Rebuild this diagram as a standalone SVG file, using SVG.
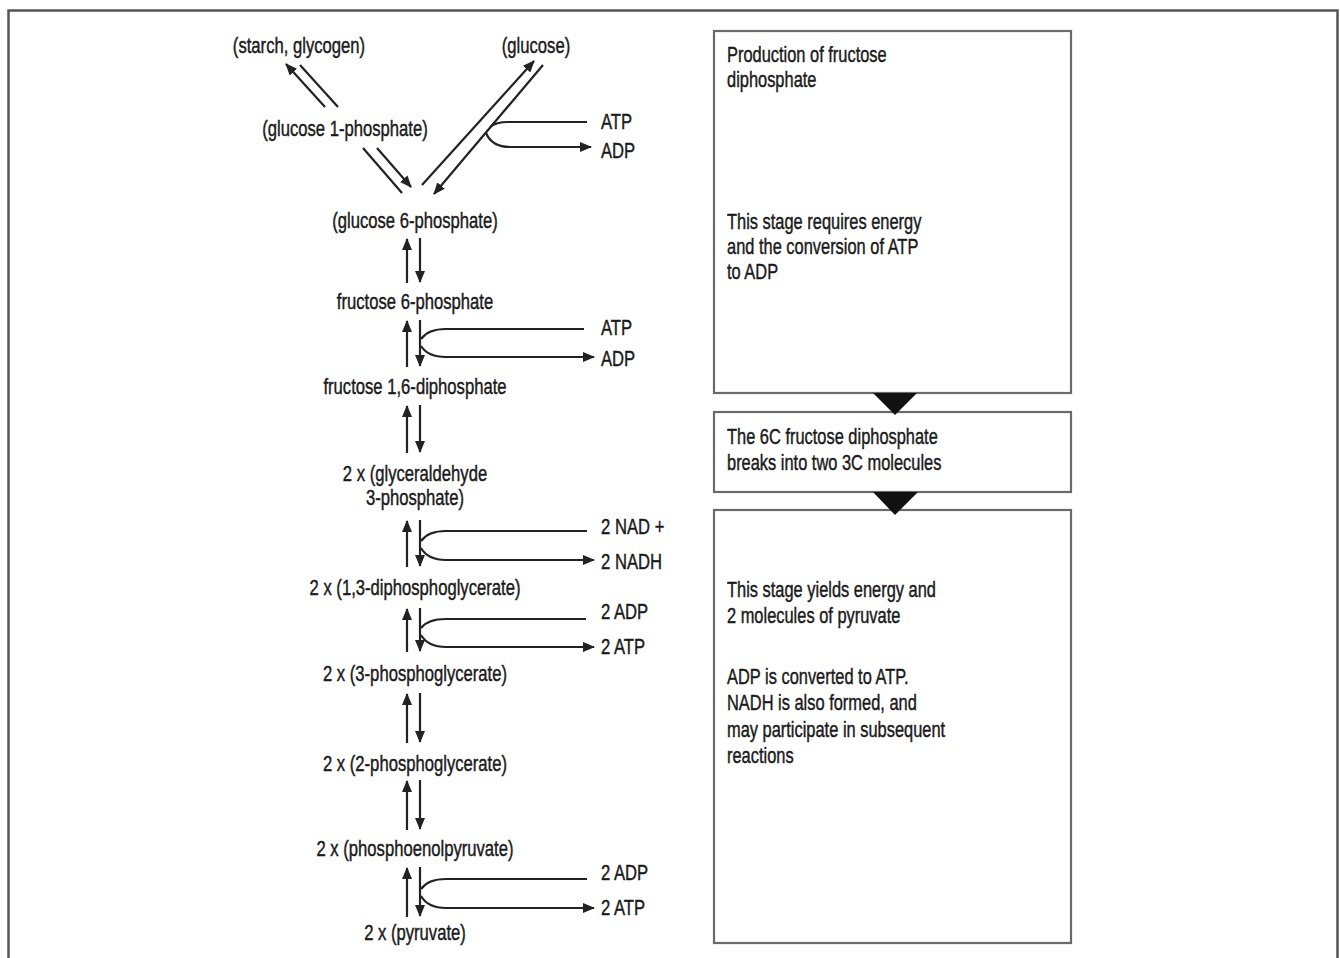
<svg xmlns="http://www.w3.org/2000/svg" width="1340" height="958" viewBox="0 0 1340 958">
<defs>
<style>
.t{font-family:"Liberation Sans",Arial,sans-serif;font-size:22.5px;fill:#1a1a1a;stroke:#1a1a1a;stroke-width:0.45}
.m{text-anchor:middle}
.ln{fill:none;stroke:#222;stroke-width:2.2}
.box{fill:#fff;stroke:#6a6a6a;stroke-width:2.2}
.tri{fill:#111}
</style>
<marker id="ah" viewBox="0 0 12 10" refX="11" refY="5" markerWidth="12" markerHeight="10" markerUnits="userSpaceOnUse" orient="auto">
<path d="M0,0 L12,5 L0,10 z" fill="#222"/>
</marker>
</defs>
<rect width="1340" height="958" fill="#fff"/>
<rect id="frame" x="8.5" y="10.5" width="1329" height="970" fill="none" stroke="#555" stroke-width="2.5"/>

<g id="connectors">
<line class="ln" x1="325" y1="107" x2="286" y2="64" marker-end="url(#ah)"/>
<line class="ln" x1="338" y1="107" x2="300" y2="65"/>
<line class="ln" x1="363" y1="148" x2="402" y2="193"/>
<line class="ln" x1="377" y1="148" x2="411" y2="187" marker-end="url(#ah)"/>
<line class="ln" x1="422" y1="185" x2="534" y2="61" marker-end="url(#ah)"/>
<line class="ln" x1="543" y1="65" x2="434" y2="194" marker-end="url(#ah)"/>
<path class="ln" d="M490,127 Q496,122 508,122 L587,122"/>
<path class="ln" d="M486,133 Q492,147 510,147 L591,147" marker-end="url(#ah)"/>

<g id="pairs">
<line class="ln" x1="407" y1="283" x2="407" y2="239" marker-end="url(#ah)"/>
<line class="ln" x1="420" y1="238" x2="420" y2="282" marker-end="url(#ah)"/>
<line class="ln" x1="407" y1="367" x2="407" y2="321" marker-end="url(#ah)"/>
<line class="ln" x1="420" y1="320" x2="420" y2="366" marker-end="url(#ah)"/>
<line class="ln" x1="407" y1="453" x2="407" y2="406" marker-end="url(#ah)"/>
<line class="ln" x1="420" y1="405" x2="420" y2="452" marker-end="url(#ah)"/>
<line class="ln" x1="407" y1="567" x2="407" y2="521" marker-end="url(#ah)"/>
<line class="ln" x1="420" y1="520" x2="420" y2="566" marker-end="url(#ah)"/>
<line class="ln" x1="407" y1="652" x2="407" y2="609" marker-end="url(#ah)"/>
<line class="ln" x1="420" y1="608" x2="420" y2="651" marker-end="url(#ah)"/>
<line class="ln" x1="407" y1="743" x2="407" y2="694" marker-end="url(#ah)"/>
<line class="ln" x1="420" y1="693" x2="420" y2="742" marker-end="url(#ah)"/>
<line class="ln" x1="407" y1="830" x2="407" y2="781" marker-end="url(#ah)"/>
<line class="ln" x1="420" y1="780" x2="420" y2="829" marker-end="url(#ah)"/>
<line class="ln" x1="407" y1="917" x2="407" y2="868" marker-end="url(#ah)"/>
<line class="ln" x1="420" y1="867" x2="420" y2="916" marker-end="url(#ah)"/>
</g>

<path class="ln" d="M421,339 Q428,329 446,329 L584,329"/>
<path class="ln" d="M421,346 Q428,357 446,357 L594,357" marker-end="url(#ah)"/>
<path class="ln" d="M421,541 Q428,531 446,531 L587,531"/>
<path class="ln" d="M421,548 Q428,560 446,560 L594,560" marker-end="url(#ah)"/>
<path class="ln" d="M421,628 Q428,619 446,619 L586,619"/>
<path class="ln" d="M421,635 Q428,647 446,647 L594,647" marker-end="url(#ah)"/>
<path class="ln" d="M421,889 Q428,879 446,879 L587,879"/>
<path class="ln" d="M421,896 Q428,908 446,908 L594,908" marker-end="url(#ah)"/>
</g>

<g id="n-starch"><text class="t m" transform="translate(299,53) scale(0.74,1)">(starch, glycogen)</text></g>
<g id="n-glucose"><text class="t m" transform="translate(536,53) scale(0.74,1)">(glucose)</text></g>
<g id="n-g1p"><text class="t m" transform="translate(345,136) scale(0.74,1)">(glucose 1-phosphate)</text></g>
<g id="n-atp1"><text class="t" transform="translate(601,129) scale(0.74,1)">ATP</text></g>
<g id="n-adp1"><text class="t" transform="translate(601,158) scale(0.74,1)">ADP</text></g>
<g id="n-g6p"><text class="t m" transform="translate(415,228) scale(0.74,1)">(glucose 6-phosphate)</text></g>
<g id="n-f6p"><text class="t m" transform="translate(415,309) scale(0.74,1)">fructose 6-phosphate</text></g>
<g id="n-atp2"><text class="t" transform="translate(601,335) scale(0.74,1)">ATP</text></g>
<g id="n-adp2"><text class="t" transform="translate(601,366) scale(0.74,1)">ADP</text></g>
<g id="n-f16dp"><text class="t m" transform="translate(415,394) scale(0.74,1)">fructose 1,6-diphosphate</text></g>
<g id="n-g3p">
<text class="t m" transform="translate(415,481) scale(0.74,1)">2 x (glyceraldehyde</text>
<text class="t m" transform="translate(415,505) scale(0.74,1)">3-phosphate)</text>
</g>
<g id="n-nad"><text class="t" transform="translate(601,534) scale(0.74,1)">2 NAD +</text></g>
<g id="n-nadh"><text class="t" transform="translate(601,569) scale(0.74,1)">2 NADH</text></g>
<g id="n-13dpg"><text class="t m" transform="translate(415,595) scale(0.74,1)">2 x (1,3-diphosphoglycerate)</text></g>
<g id="n-adp3"><text class="t" transform="translate(601,619) scale(0.74,1)">2 ADP</text></g>
<g id="n-atp3"><text class="t" transform="translate(601,654) scale(0.74,1)">2 ATP</text></g>
<g id="n-3pg"><text class="t m" transform="translate(415,681) scale(0.74,1)">2 x (3-phosphoglycerate)</text></g>
<g id="n-2pg"><text class="t m" transform="translate(415,771) scale(0.74,1)">2 x (2-phosphoglycerate)</text></g>
<g id="n-pep"><text class="t m" transform="translate(415,856) scale(0.74,1)">2 x (phosphoenolpyruvate)</text></g>
<g id="n-adp4"><text class="t" transform="translate(601,880) scale(0.74,1)">2 ADP</text></g>
<g id="n-atp4"><text class="t" transform="translate(601,915) scale(0.74,1)">2 ATP</text></g>
<g id="n-pyr"><text class="t m" transform="translate(415,940) scale(0.74,1)">2 x (pyruvate)</text></g>

<g id="box1">
<rect class="box" x="714" y="31" width="357" height="362"/>
<text class="t" transform="translate(727,62) scale(0.73,1)">Production of fructose</text>
<text class="t" transform="translate(727,87) scale(0.73,1)">diphosphate</text>
<text class="t" transform="translate(727,229) scale(0.73,1)">This stage requires energy</text>
<text class="t" transform="translate(727,254) scale(0.73,1)">and the conversion of ATP</text>
<text class="t" transform="translate(727,279) scale(0.73,1)">to ADP</text>
</g>
<g id="box2">
<rect class="box" x="714" y="412" width="357" height="80"/>
<text class="t" transform="translate(727,444) scale(0.73,1)">The 6C fructose diphosphate</text>
<text class="t" transform="translate(727,470) scale(0.73,1)">breaks into two 3C molecules</text>
</g>
<g id="box3">
<rect class="box" x="714" y="510" width="357" height="433"/>
<text class="t" transform="translate(727,597) scale(0.73,1)">This stage yields energy and</text>
<text class="t" transform="translate(727,623) scale(0.73,1)">2 molecules of pyruvate</text>
<text class="t" transform="translate(727,684) scale(0.73,1)">ADP is converted to ATP.</text>
<text class="t" transform="translate(727,710) scale(0.73,1)">NADH is also formed, and</text>
<text class="t" transform="translate(727,737) scale(0.73,1)">may participate in subsequent</text>
<text class="t" transform="translate(727,763) scale(0.73,1)">reactions</text>
</g>
<g id="tri1"><polygon class="tri" points="873,393 917,393 895,415"/></g>
<g id="tri2"><polygon class="tri" points="873,492 918,492 895,515"/></g>
</svg>
